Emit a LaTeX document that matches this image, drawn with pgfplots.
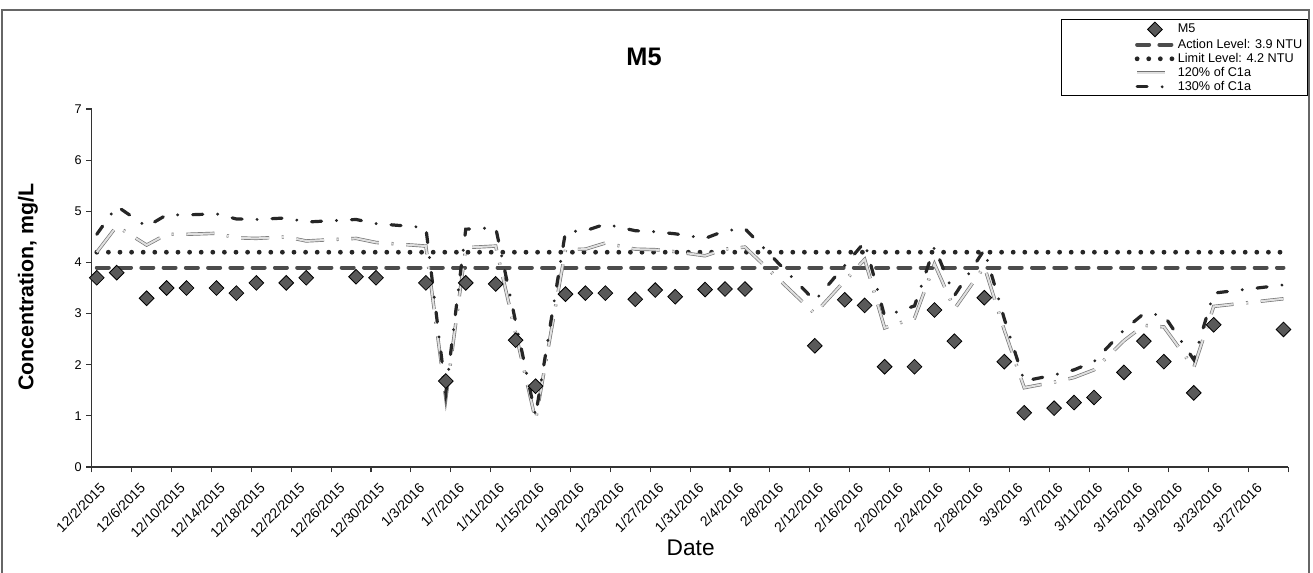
\documentclass[border=0pt]{standalone}
\usepackage{fontspec}
\setmainfont{Liberation Sans}
\usepackage{pgfplots}
\usepackage{pgfplotstable}
\pgfplotsset{compat=1.18}

\pgfplotstableread{
x y
0.5 3.7
2.5 3.8
5.5 3.3
7.5 3.5
9.5 3.5
12.5 3.5
14.5 3.4
16.5 3.6
19.5 3.6
21.5 3.7
26.5 3.72
28.5 3.7
33.5 3.6
35.5 1.68
37.5 3.6
40.5 3.58
42.5 2.48
44.5 1.58
47.5 3.38
49.5 3.4
51.5 3.4
54.5 3.28
56.5 3.46
58.5 3.33
61.5 3.47
63.5 3.48
65.5 3.48
72.5 2.37
75.5 3.27
77.5 3.16
79.5 1.96
82.5 1.96
84.5 3.07
86.5 2.46
89.5 3.31
91.5 2.06
93.5 1.06
96.5 1.15
98.5 1.26
100.5 1.36
103.5 1.85
105.5 2.46
107.5 2.06
110.5 1.45
112.5 2.78
119.5 2.69
}\mfive

\pgfplotstableread{
x p130 p120
0.5 4.55 4.20
2.5 5.10 4.71
5.5 4.70 4.34
7.5 4.93 4.55
9.5 4.93 4.55
12.5 4.95 4.57
14.5 4.85 4.48
16.5 4.84 4.47
19.5 4.87 4.50
21.5 4.79 4.42
26.5 4.84 4.47
28.5 4.76 4.39
33.5 4.68 4.32
35.5 1.45 1.34
37.5 4.65 4.29
40.5 4.68 4.32
44.5 1.00 0.92
47.5 4.60 4.25
49.5 4.62 4.26
51.5 4.75 4.38
54.5 4.62 4.26
56.5 4.60 4.25
58.5 4.56 4.21
61.5 4.47 4.13
63.5 4.62 4.26
65.5 4.66 4.30
72.5 3.25 3.00
75.5 3.94 3.64
77.5 4.40 4.06
79.5 2.95 2.72
82.5 3.15 2.91
84.5 4.30 3.97
86.5 3.35 3.09
89.5 4.25 3.92
91.5 2.90 2.68
93.5 1.68 1.55
96.5 1.80 1.66
98.5 1.90 1.75
100.5 2.06 1.90
103.5 2.68 2.47
105.5 3.00 2.77
107.5 2.97 2.74
110.5 2.10 1.94
112.5 3.40 3.14
119.5 3.56 3.29
}\cone

\begin{document}
\begin{tikzpicture}
\path[use as bounding box] (0pt,0pt) rectangle (984.75pt,429pt);
\draw[black!60, line width=0.8pt] (1.5pt,-2pt) -- (1.5pt,421.5pt) -- (981.75pt,421.5pt) -- (981.75pt,-2pt);
\begin{axis}[
  at={(68.85pt,78.75pt)}, anchor=south west,
  scale only axis, width=897.5pt, height=268.5pt,
  xmin=0, xmax=120, ymin=0, ymax=7,
  enlargelimits=false, clip=false,
  axis x line=bottom, axis y line=left,
  axis line style={-, black!80, line width=0.8pt},
  tick style={black!80, line width=0.8pt},
  tick align=outside, major tick length=4pt,
  xtick={0,4,...,120},
  xticklabels={12/2/2015,12/6/2015,12/10/2015,12/14/2015,12/18/2015,12/22/2015,12/26/2015,12/30/2015,1/3/2016,1/7/2016,1/11/2016,1/15/2016,1/19/2016,1/23/2016,1/27/2016,1/31/2016,2/4/2016,2/8/2016,2/12/2016,2/16/2016,2/20/2016,2/24/2016,2/28/2016,3/3/2016,3/7/2016,3/11/2016,3/15/2016,3/19/2016,3/23/2016,3/27/2016,{}},
  xticklabel style={xshift=9pt, yshift=-9pt, rotate=45, anchor=east, font=\fontsize{10.5}{12}\selectfont, inner sep=1pt},
  ytick={0,1,...,7},
  yticklabel style={font=\fontsize{9.5}{11}\selectfont},
  /pgf/number format/assume math mode=true,
  legend style={at={(axis description cs:1.0163,1.2514)}, anchor=north east,
    draw=black, line width=0.6pt, fill=white,
    font=\fontsize{9.5}{10}\selectfont, inner xsep=2pt, inner ysep=2pt,
    row sep=1.5pt,
    nodes={inner ysep=0pt, text height=7pt, text depth=2pt}},
  legend cell align=left,
  legend image code/.code={
    \path (-1.85cm,0cm);
    \draw[mark repeat=2,mark phase=2,#1] plot coordinates {(0cm,0cm) (0.47cm,0cm) (0.94cm,0cm)};
  },
]
\addplot[only marks, mark=square*, mark size=3.9pt,
  mark options={rotate=45, fill=black!65, draw=black, line width=0.6pt}]
  table[x=x, y=y] {\mfive};
\addlegendentry{M5}
\addplot[black!70, line width=3pt, line cap=round, dash pattern=on 9pt off 7.7pt]
  coordinates {(0.5,3.9) (119.5,3.9)};
\addlegendentry{Action Level: 3.9 NTU}
\addplot[black!85, line width=3.6pt, line cap=round, dash pattern=on 0pt off 8.7pt]
  coordinates {(0.5,4.2) (119.5,4.2)};
\addlegendentry{Limit Level: 4.2 NTU}
\addplot[draw=black!55, line width=0.5pt, double=black!12, double distance=1.5pt,
  dash pattern=on 21pt off 9.5pt on 1.5pt off 9.5pt]
  table[x=x, y=p120] {\cone};
\addlegendentry{120\% of C1a}
\addplot[black!85, line width=2.4pt, line cap=round,
  dash pattern=on 7.5pt off 11.25pt on 0pt off 11.25pt]
  table[x=x, y=p130] {\cone};
\addlegendentry{130\% of C1a}
\end{axis}
\node[font=\bfseries\fontsize{19}{22}\selectfont] at (483pt,386.25pt) {M5};
\node[font=\bfseries\fontsize{16}{19}\selectfont, rotate=90] at (21pt,213.75pt) {Concentration, mg/L};
\node[font=\fontsize{17}{20}\selectfont] at (518pt,18pt) {Date};
\end{tikzpicture}
\end{document}
